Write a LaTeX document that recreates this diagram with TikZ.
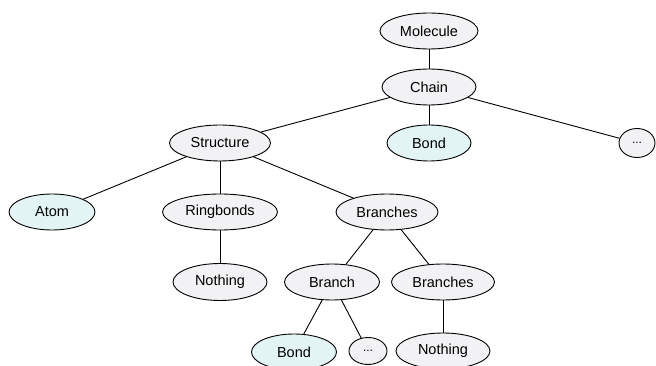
\documentclass[tikz,border=0pt]{standalone}
\usepackage{fontspec}
\setmainfont{Liberation Sans}
\usetikzlibrary{shapes.geometric}
\definecolor{nodegray}{HTML}{F2F2F4}
\definecolor{nodecyan}{HTML}{E3F4F4}
\begin{document}
\begin{tikzpicture}[x=1pt,y=-1pt,
  nd/.style={ellipse, draw=black, line width=0.9pt, fill=nodegray, inner sep=0pt,
    minimum height=36pt, font=\fontsize{14.5}{17}\selectfont},
  leaf/.style={nd, fill=nodecyan},
  dotnode/.style={nd, font=\fontsize{12}{14}\selectfont},
  edge/.style={line width=0.9pt}]
\useasboundingbox (0,0) rectangle (656,366);
\clip (0,0) rectangle (656,366);
\node[nd, minimum width=98pt] (mol) at (429,31) {Molecule};
\node[nd, minimum width=94pt] (chain) at (429,87) {Chain};
\node[nd, minimum width=101pt] (struct) at (220,143) {Structure};
\node[leaf, minimum width=84pt] (bond1) at (429,143) {Bond};
\node[dotnode, minimum width=36pt, minimum height=29pt] (dots1) at (637,143) {...};
\node[leaf, minimum width=86pt] (atom) at (52,212) {Atom};
\node[nd, minimum width=115pt] (ring) at (220,212) {Ringbonds};
\node[nd, minimum width=102pt] (br1) at (387,212) {Branches};
\node[nd, minimum width=94pt, minimum height=37pt] (noth1) at (220,282) {Nothing};
\node[nd, minimum width=95pt] (branch) at (332,282) {Branch};
\node[nd, minimum width=103pt] (br2) at (443,282) {Branches};
\node[leaf, minimum width=85pt] (bond2) at (294,352) {Bond};
\node[dotnode, minimum width=38pt, minimum height=27pt] (dots2) at (368,351) {...};
\node[nd, minimum width=94pt] (noth2) at (443,351) {Nothing};
\draw[edge] (mol) -- (chain);
\draw[edge] (chain) -- (struct);
\draw[edge] (chain) -- (bond1);
\draw[edge] (chain) -- (dots1);
\draw[edge] (struct) -- (atom);
\draw[edge] (struct) -- (ring);
\draw[edge] (struct) -- (br1);
\draw[edge] (ring) -- (noth1);
\draw[edge] (br1) -- (branch);
\draw[edge] (br1) -- (br2);
\draw[edge] (branch) -- (bond2);
\draw[edge] (branch) -- (dots2);
\draw[edge] (br2) -- (noth2);
\end{tikzpicture}
\end{document}
